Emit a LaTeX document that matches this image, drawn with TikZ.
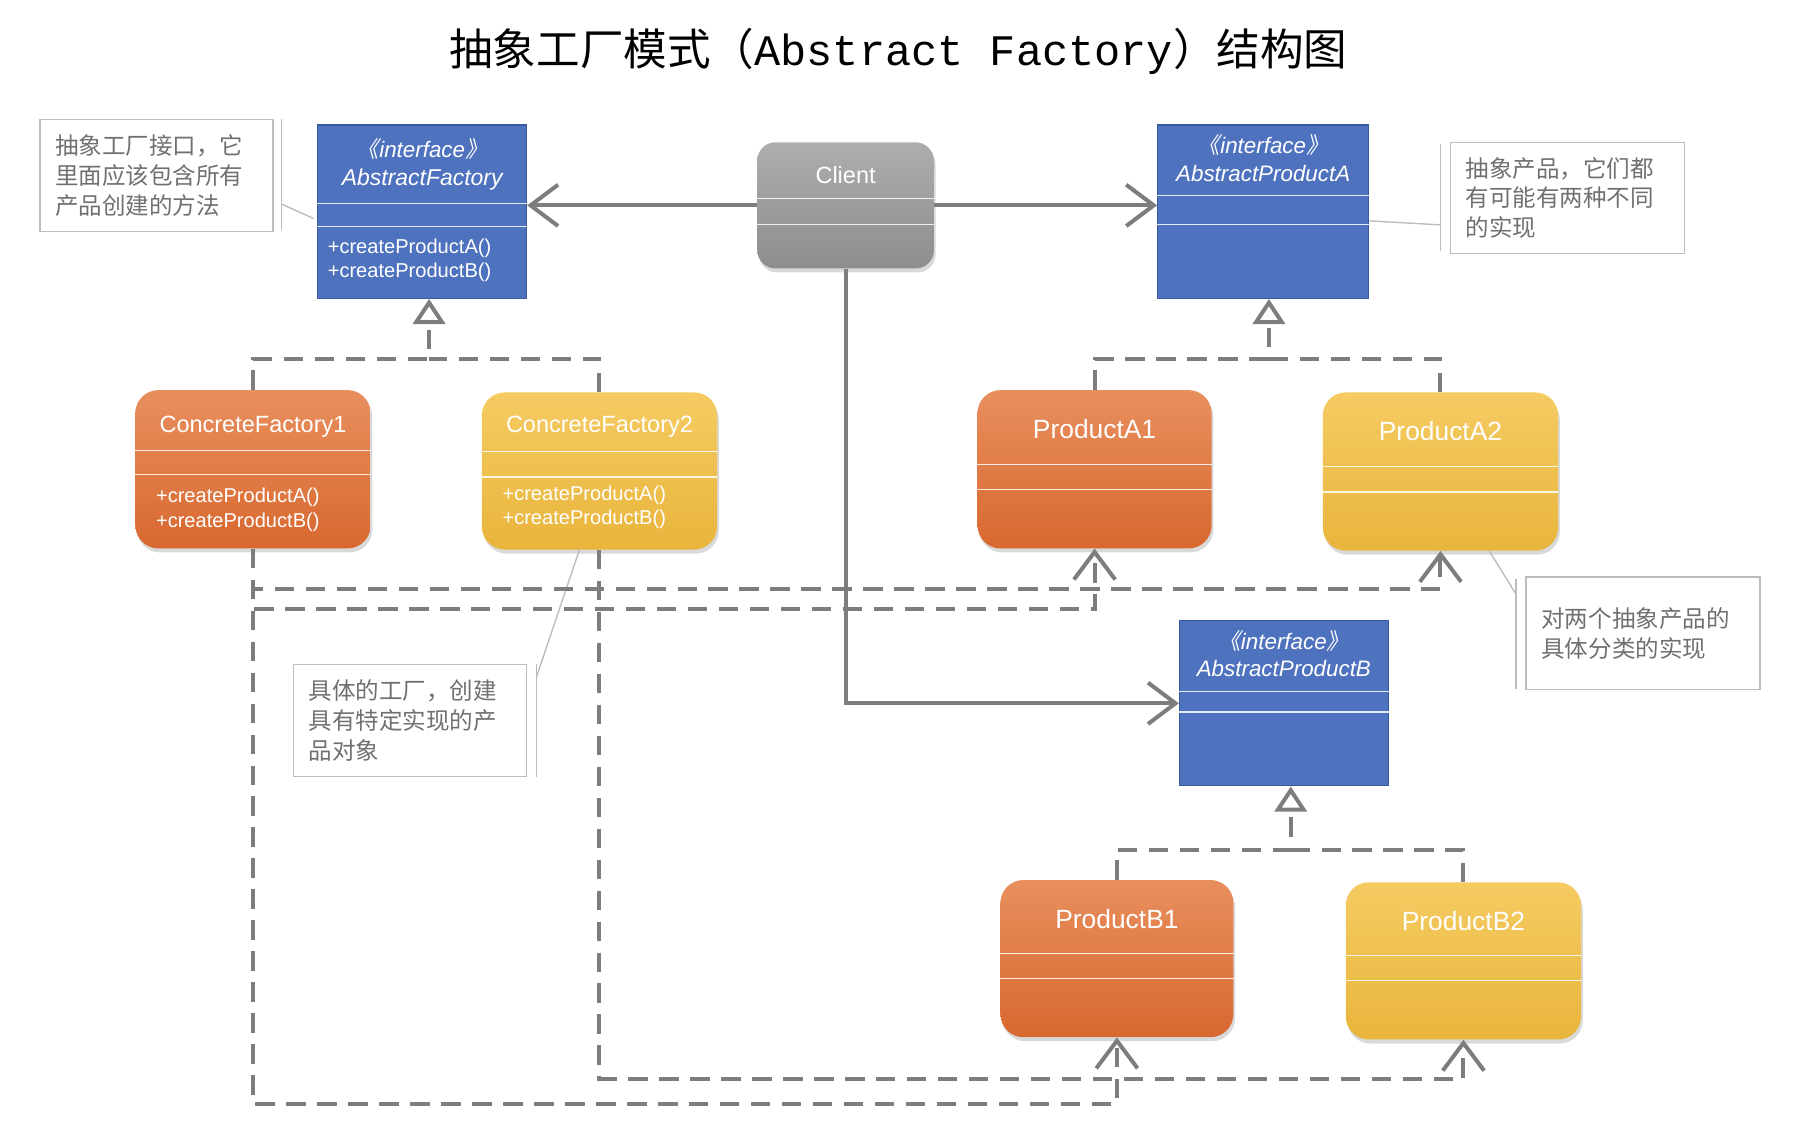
\documentclass[tikz,border=0pt]{standalone}
\usepackage{fontspec}
\setmainfont{Liberation Sans}
\newfontfamily\cjk{Noto Sans CJK SC}
\newfontfamily\cjkit[FakeSlant=0.2]{Noto Sans CJK SC}
\newfontfamily\mono{Liberation Mono}
\usetikzlibrary{arrows.meta,shadows,calc}

\definecolor{ifblue}{RGB}{79,114,190}
\definecolor{ifedge}{RGB}{58,90,158}
\definecolor{orgtop}{RGB}{232,143,94}
\definecolor{orgbot}{RGB}{216,104,47}
\definecolor{yeltop}{RGB}{245,203,98}
\definecolor{yelbot}{RGB}{233,181,60}
\definecolor{clitop}{RGB}{174,174,174}
\definecolor{clibot}{RGB}{141,141,141}
\definecolor{linegray}{RGB}{125,125,125}
\definecolor{notegray}{RGB}{188,188,188}
\definecolor{notetext}{RGB}{112,112,112}

\tikzset{
  iface/.style={draw=ifedge, line width=1pt, fill=ifblue, minimum width=182pt, minimum height=151pt, inner sep=0pt},
  cbox/.style={rounded corners=20pt, minimum width=205pt, minimum height=137pt, inner sep=0pt,
    drop shadow={opacity=0.3, shadow xshift=1.5pt, shadow yshift=-3.5pt}},
  orgbox/.style={cbox, top color=orgtop, bottom color=orgbot},
  yelbox/.style={cbox, top color=yeltop, bottom color=yelbot},
  clibox/.style={cbox, rounded corners=16pt, minimum width=154pt, minimum height=110pt, top color=clitop, bottom color=clibot},
  sep/.style={white, line width=1.1pt, opacity=0.85},
  stereo/.style={text=white, font=\fontsize{19.5}{23}\selectfont\itshape},
  ifname/.style={text=white, font=\fontsize{20}{24}\selectfont\itshape},
  cname/.style={text=white, font=\fontsize{20.5}{25}\selectfont},
  pname/.style={text=white, font=\fontsize{23}{27}\selectfont},
  mth/.style={text=white, font=\fontsize{17.5}{21}\selectfont, anchor=west, inner sep=0pt},
  note/.style={draw=notegray, line width=1.2pt, minimum width=203pt, minimum height=98pt, text width=177pt,
    align=left, inner sep=0pt, text=notetext, font=\cjk\fontsize{20.5}{26}\selectfont},
  bar/.style={draw=notegray, line width=1.2pt},
  assoc/.style={draw=linegray, line width=3.5pt, -{Straight Barb[length=24pt,width=36pt]}},
  real/.style={draw=linegray, line width=3.5pt, dash pattern=on 17pt off 10pt},
  dep/.style={assoc, dash pattern=on 17pt off 10pt},
  inh/.style={real, -{Triangle[open, length=22pt, width=28pt]}},
}

\begin{document}
\begin{tikzpicture}[x=1pt, y=-1pt]
\useasboundingbox (0,0) rectangle (1568,993);
\node[font=\fontsize{38}{44}\selectfont] (title) at (783,45) {{\cjk 抽象工厂模式（}{\mono Abstract Factory}{\cjk ）结构图}};

\node[iface] (af) at (368,184.5) {};
\node[stereo] (af-st) at ($(af.north)+(0,21)$) {{\cjkit 《}interface{\cjkit 》}};
\node[ifname] (af-nm) at ($(af.north)+(0,48)$) {AbstractFactory};
\draw[sep] ($(af.north west)+(0,69)$) -- ($(af.north east)+(0,69)$);
\draw[sep] ($(af.north west)+(0,89)$) -- ($(af.north east)+(0,89)$);
\node[mth] (af-ma) at ($(af.north west)+(9,108)$) {+createProductA()};
\node[mth] (af-mb) at ($(af.north west)+(9,129)$) {+createProductB()};

\node[clibox] (cl) at (737,179) {};
\node[cname] (cl-nm) at ($(cl.north)+(0,29)$) {Client};
\draw[sep] ($(cl.north west)+(0,49)$) -- ($(cl.north east)+(0,49)$);
\draw[sep] ($(cl.north west)+(0,72)$) -- ($(cl.north east)+(0,72)$);

\node[iface, minimum width=184pt] (apa) at (1101,184.5) {};
\node[stereo] (apa-st) at ($(apa.north)+(0,18)$) {{\cjkit 《}interface{\cjkit 》}};
\node[ifname, font=\fontsize{19.5}{24}\selectfont\itshape] (apa-nm) at ($(apa.north)+(0,43)$) {AbstractProductA};
\draw[sep] ($(apa.north west)+(0,62)$) -- ($(apa.north east)+(0,62)$);
\draw[sep] ($(apa.north west)+(0,87)$) -- ($(apa.north east)+(0,87)$);

\node[iface, minimum height=144pt] (apb) at (1119,613) {};
\node[stereo] (apb-st) at ($(apb.north)+(0,18)$) {{\cjkit 《}interface{\cjkit 》}};
\node[ifname, font=\fontsize{19.5}{24}\selectfont\itshape] (apb-nm) at ($(apb.north)+(0,42)$) {AbstractProductB};
\draw[sep] ($(apb.north west)+(0,62)$) -- ($(apb.north east)+(0,62)$);
\draw[sep] ($(apb.north west)+(0,80)$) -- ($(apb.north east)+(0,80)$);

\node[orgbox, minimum height=138pt] (cf1) at (220.5,409) {};
\node[cname] (cf1-nm) at ($(cf1.north)+(0,32)$) {ConcreteFactory1};
\draw[sep] ($(cf1.north west)+(0,53)$) -- ($(cf1.north east)+(0,53)$);
\draw[sep] ($(cf1.north west)+(0,74)$) -- ($(cf1.north east)+(0,74)$);
\node[mth] (cf1-ma) at ($(cf1.north west)+(18,94)$) {+createProductA()};
\node[mth] (cf1-mb) at ($(cf1.north west)+(18,115)$) {+createProductB()};

\node[yelbox] (cf2) at (522.5,410.5) {};
\node[cname] (cf2-nm) at ($(cf2.north)+(0,30)$) {ConcreteFactory2};
\draw[sep] ($(cf2.north west)+(0,52)$) -- ($(cf2.north east)+(0,52)$);
\draw[sep] ($(cf2.north west)+(0,74)$) -- ($(cf2.north east)+(0,74)$);
\node[mth] (cf2-ma) at ($(cf2.north west)+(18,90)$) {+createProductA()};
\node[mth] (cf2-mb) at ($(cf2.north west)+(18,111)$) {+createProductB()};

\node[orgbox, minimum width=204pt, minimum height=138pt] (pa1) at (954,409) {};
\node[pname] (pa1-nm) at ($(pa1.north)+(0,34)$) {ProductA1};
\draw[sep] ($(pa1.north west)+(0,65)$) -- ($(pa1.north east)+(0,65)$);
\draw[sep] ($(pa1.north west)+(0,87)$) -- ($(pa1.north east)+(0,87)$);

\node[yelbox, minimum height=138pt] (pa2) at (1255.5,411) {};
\node[pname] (pa2-nm) at ($(pa2.north)+(0,34)$) {ProductA2};
\draw[sep] ($(pa2.north west)+(0,65)$) -- ($(pa2.north east)+(0,65)$);
\draw[sep] ($(pa2.north west)+(0,87)$) -- ($(pa2.north east)+(0,87)$);

\node[orgbox, minimum width=203pt] (pb1) at (973.5,835.5) {};
\node[pname] (pb1-nm) at ($(pb1.north)+(0,34)$) {ProductB1};
\draw[sep] ($(pb1.north west)+(0,64)$) -- ($(pb1.north east)+(0,64)$);
\draw[sep] ($(pb1.north west)+(0,86)$) -- ($(pb1.north east)+(0,86)$);

\node[yelbox] (pb2) at (1275.5,837.5) {};
\node[pname] (pb2-nm) at ($(pb2.north)+(0,34)$) {ProductB2};
\draw[sep] ($(pb2.north west)+(0,64)$) -- ($(pb2.north east)+(0,64)$);
\draw[sep] ($(pb2.north west)+(0,86)$) -- ($(pb2.north east)+(0,86)$);

\node[note] (n1) at (136.5,153) {抽象工厂接口，它\\里面应该包含所有\\产品创建的方法};
\node[note, minimum width=204pt, minimum height=97pt] (n2) at (1366,172.5) {抽象产品，它们都\\有可能有两种不同\\的实现};
\node[note] (n3) at (357.5,628) {具体的工厂，创建\\具有特定实现的产\\品对象};
\node[note, minimum width=204pt] (n4) at (1432,552) {对两个抽象产品的\\具体分类的实现};

\coordinate (n1b) at ($(n1.east)+(7,25)$);
\coordinate (n2b) at ($(n2.west)+(-8,23.5)$);
\coordinate (n3b) at ($(n3.east)+(8,-38)$);
\coordinate (n4b) at ($(n4.west)+(-8,-34)$);
\draw[bar] ($(n1.north east)+(7,0)$) -- ($(n1.south east)+(7,-2)$);
\draw[bar] ($(n2.north west)+(-8,2)$) -- ($(n2.south west)+(-8,-3)$);
\draw[bar] ($(n3.north east)+(8,0)$) -- ($(n3.south east)+(8,0)$);
\draw[bar] ($(n4.north west)+(-8,2)$) -- ($(n4.south west)+(-8,-1)$);
\draw[bar] (n1b) -- ($(af.west)+(-3,6)$);
\draw[bar] (n2b) -- ($(apa.east)+(0,8)$);
\draw[bar] (n3b) -- ($(cf2.south)+(-17.5,0)$);
\draw[bar] (n4b) -- ($(pa2.south)+(42.5,0)$);

\draw[assoc] (cl.west) -- (af.east |- cl.west);
\draw[assoc] (cl.east) -- (apa.west |- cl.east);
\draw[assoc] (cl.south) |- (apb.west);

\coordinate (af-in) at ($(af.south)+(6,0)$);
\coordinate (apa-in) at ($(apa.south)+(5,0)$);
\coordinate (apb-in) at ($(apb.south)+(6,0)$);
\draw[inh] (cf1.north) |- ($(af-in)+(0,52)$) -- (af-in);
\draw[real] (cf2.north) |- ($(af-in)+(0,52)$);
\draw[inh] (pa1.north) |- ($(apa-in)+(0,52)$) -- (apa-in);
\draw[real] (pa2.north) |- ($(apa-in)+(0,52)$);
\draw[inh] (pb1.north) |- ($(apb-in)+(0,55)$) -- (apb-in);
\draw[real] (pb2.north) |- ($(apb-in)+(0,55)$);

\draw[dep] (cf1.south) -- ++(0,53) -| (pa1.south);
\draw[dep] (cf1.south) -- ++(0,35) -| (pa2.south);
\draw[dep] (cf1.south) -- ++(0,484) -| (pb1.south);
\draw[dep] (cf2.south) -- ++(0,461) -| (pb2.south);
\end{tikzpicture}
\end{document}
